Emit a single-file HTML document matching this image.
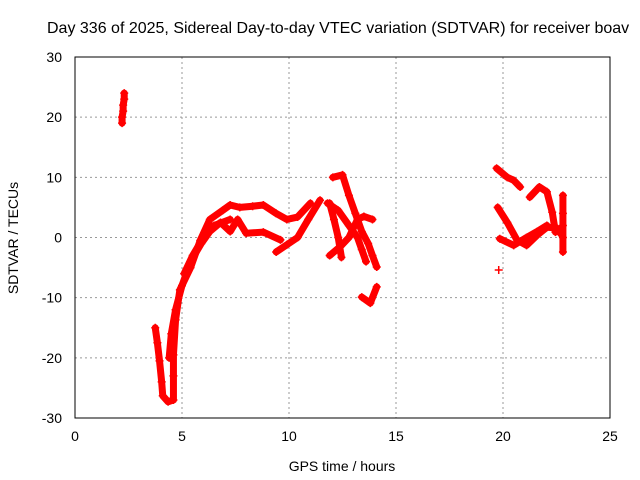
<!DOCTYPE html>
<html><head><meta charset="utf-8"><style>
body{margin:0;background:#fff}
svg{font-family:"Liberation Sans",sans-serif;display:block}
</style></head><body>
<svg id="chart" width="640" height="480">
<rect width="640" height="480" fill="#fff"/>
<text x="47" y="33" font-size="16">Day 336 of 2025, Sidereal Day-to-day VTEC variation (SDTVAR) for receiver boav</text>
<g id="grid"></g>
<g id="marks"></g>
<rect x="75" y="57" width="535" height="361" fill="none" stroke="#000" stroke-width="1"/>
<g id="axes" font-size="14"></g>
<text x="342" y="471" font-size="14" text-anchor="middle">GPS time / hours</text>
<text transform="translate(18,238) rotate(-90)" font-size="14" text-anchor="middle">SDTVAR / TECUs</text>
</svg>
<script>
const xTicks=[0,5,10,15,20,25];
const yTicks=[-30,-20,-10,0,10,20,30];
const trackEarly=[[2.2,19],[2.2,20],[2.25,21],[2.25,22],[2.3,23],[2.3,24]];
const trackDip=[[3.75,-15],[3.85,-17.5],[3.95,-20.5],[4.05,-24],[4.1,-26.3],[4.35,-27.3],[4.6,-27],[4.6,-23],[4.6,-19.5],[4.7,-13.7],[4.9,-8.7],[5.4,-5],[5.85,-0.5],[6.3,3],[6.9,4.5],[7.25,5.4],[7.7,5],[8.3,5.2],[8.8,5.4],[9.4,4],[9.9,3],[10.4,3.4],[11,5.7]];
const trackDip2=[[4.4,-20],[4.5,-16],[4.7,-12],[5,-8],[5.4,-4],[5.9,-1],[6.3,1],[6.8,2.5],[7.25,1],[7.6,3],[8,0.7],[8.8,0.9],[9.6,-0.4]];
const trackRise=[[9.4,-2.4],[9.9,-1.2],[10.4,0],[10.9,3],[11.45,6.2]];
const trackBand3=[[5.1,-6],[5.5,-3],[6,0],[6.5,2],[7.25,3]];
const trackMidA=[[11.9,5.7],[12.1,3],[12.3,0],[12.45,-3.3]];
const trackMidB=[[12.05,10],[12.5,10.4],[12.8,7],[13.1,4],[13.4,1],[13.7,-1],[13.9,-3],[14.1,-4.9]];
const trackMidC=[[11.8,5.7],[12.3,4.5],[12.8,2],[13.2,0],[13.4,-2],[13.6,-4]];
const trackMidD=[[11.9,-3],[12.4,-1.5],[12.8,0],[13.2,3],[13.5,3.5],[13.9,3]];
const trackHook=[[13.4,-9.9],[13.8,-10.9],[14.1,-8.2]];
const trackLateA=[[19.7,11.5],[20.2,10],[20.5,9.5],[20.8,8.4]];
const trackLateB=[[19.75,5],[20.2,2.5],[20.65,-0.4],[21.1,-1.3],[21.6,0.4],[22.05,1.7],[22.5,1.6],[22.75,0.4]];
const trackLateC=[[19.85,-0.2],[20.5,-1.3],[21.1,0],[21.6,1],[22.05,2]];
const trackLateD=[[21.25,6.7],[21.7,8.4],[22.05,7.6],[22.3,4.2],[22.45,0.9]];
const trackLateE=[[22.8,-2.4],[22.8,0],[22.8,2],[22.8,4],[22.8,7]];
const trackSingle=[[19.8,-5.4]];
const tracks=[trackEarly,trackDip,trackDip2,trackRise,trackBand3,trackMidA,trackMidB,trackMidC,trackMidD,trackHook,trackLateA,trackLateB,trackLateC,trackLateD,trackLateE,trackSingle];
const NS='http://www.w3.org/2000/svg';
const X=h=>75+h*21.4, Y=v=>237.5-v*6.017;
const grid=document.getElementById('grid'),axes=document.getElementById('axes'),marks=document.getElementById('marks');
function mk(t,a,p){const e=document.createElementNS(NS,t);for(const k in a)e.setAttribute(k,a[k]);p.appendChild(e);return e;}
xTicks.forEach(t=>{
 if(t>0&&t<25){const l=mk('line',{x1:X(t),x2:X(t),y1:57,y2:418,stroke:'#999','stroke-dasharray':'2,3'},grid);
 
 }
 const tx=mk('text',{x:X(t),y:441,'text-anchor':'middle'},axes);tx.textContent=t;
 
 
});
yTicks.forEach(t=>{
 if(t>-30&&t<30){const l=mk('line',{x1:75,x2:610,y1:Y(t),y2:Y(t),stroke:'#999','stroke-dasharray':'2,3'},grid);
 
 }
 const tx=mk('text',{x:62,y:Y(t)+5,'text-anchor':'end'},axes);tx.textContent=t;
 
 
});
tracks.forEach(tr=>{
 if(tr.length>1){const pl=mk('polyline',{points:tr.map(p=>X(p[0])+','+Y(p[1])).join(' '),fill:'none',stroke:'#f00','stroke-width':7,'stroke-linejoin':'round','stroke-linecap':'round'},marks);
 
 }
 tr.forEach(p=>{const x=X(p[0]),y=Y(p[1]);
  const m=mk('path',{d:`M${x-4},${y}H${x+4}M${x},${y-4}V${y+4}`,stroke:'#f00','stroke-width':1.5},marks);
  
  });
});
</script>
</body></html>
